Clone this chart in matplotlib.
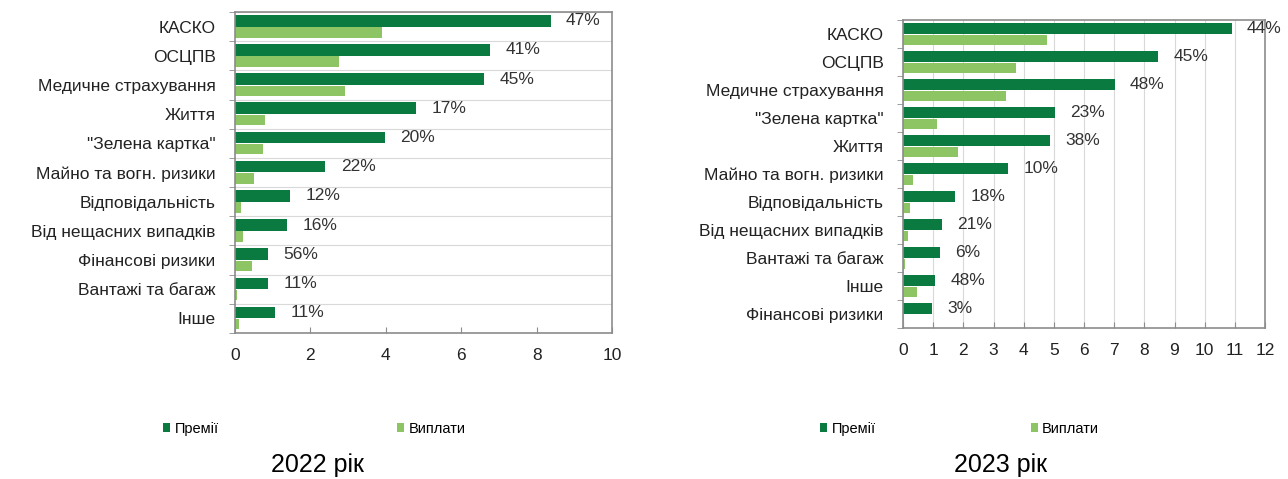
import matplotlib.pyplot as plt
import numpy as np

plt.rcParams['font.family'] = ['Liberation Sans', 'DejaVu Sans']

# 2022
cats_2022 = ['КАСКО', 'ОСЦПВ', 'Медичне страхування', 'Життя', '"Зелена картка"',
             'Майно та вогн. ризики', 'Відповідальність', 'Від нещасних випадків',
             'Фінансові ризики', 'Вантажі та багаж', 'Інше']
prem_2022 = [8.37, 6.77, 6.61, 4.8, 3.97, 2.4, 1.47, 1.39, 0.88, 0.88, 1.07]
pay_2022 = [3.9, 2.75, 2.93, 0.8, 0.75, 0.5, 0.15, 0.2, 0.45, 0.05, 0.1]
pct_2022 = ['47%', '41%', '45%', '17%', '20%', '22%', '12%', '16%', '56%', '11%', '11%']

# 2023
cats_2023 = ['КАСКО', 'ОСЦПВ', 'Медичне страхування', '"Зелена картка"', 'Життя',
             'Майно та вогн. ризики', 'Відповідальність', 'Від нещасних випадків',
             'Вантажі та багаж', 'Інше', 'Фінансові ризики']
prem_2023 = [10.9, 8.45, 7.02, 5.03, 4.87, 3.48, 1.72, 1.3, 1.22, 1.06, 0.96]
pay_2023 = [4.77, 3.74, 3.41, 1.13, 1.82, 0.33, 0.23, 0.17, 0.08, 0.46, 0.03]
pct_2023 = ['44%', '45%', '48%', '23%', '38%', '10%', '18%', '21%', '6%', '48%', '3%']

dark = '#0b7a40'
light = '#8dc464'
frame = '#8c8c8c'

fig = plt.figure(figsize=(12.88, 4.79), dpi=100)


def draw(ax, cats, prem, pay, pct, xmax, step, vgrid):
    y = np.arange(len(cats))
    ax.barh(y - 0.2, prem, height=0.4, color=dark, label='Премії')
    ax.barh(y + 0.2, pay, height=0.36, color=light, label='Виплати')
    for yi, v, t in zip(y, prem, pct):
        ax.annotate(t, (v, yi - 0.2), xytext=(11, 0), textcoords='offset points',
                    va='center', ha='left', fontsize=12.5, color='#333333')
    ax.set_xlim(0, xmax)
    ax.set_ylim(len(cats) - 0.5, -0.5)
    ax.set_yticks(y)
    ax.set_yticklabels(cats, fontsize=12.5, color='#222222')
    ax.set_yticks(np.arange(len(cats) + 1) - 0.5, minor=True)
    ax.tick_params(axis='y', which='major', length=0, pad=14)
    ax.tick_params(axis='y', which='minor', length=4, color=frame, direction='out')
    ax.set_xticks(np.arange(0, xmax + 0.1, step))
    ax.tick_params(axis='x', length=4, direction='in', color=frame, labelsize=12.5,
                   pad=11, labelcolor='#222222')
    for s in ax.spines.values():
        s.set_color(frame)
        s.set_linewidth(1.2)
    if vgrid:
        ax.grid(axis='x', color='#d9d9d9', linewidth=0.8)
    else:
        ax.grid(axis='y', which='minor', color='#d9d9d9', linewidth=0.8)
    ax.set_axisbelow(True)


ax1 = fig.add_axes([235 / 1288, 1 - 333 / 479, 377 / 1288, 321 / 479])
draw(ax1, cats_2022, prem_2022, pay_2022, pct_2022, 10, 2, False)
ax2 = fig.add_axes([903 / 1288, 1 - 328 / 479, 362 / 1288, 308 / 479])
draw(ax2, cats_2023, prem_2023, pay_2023, pct_2023, 12, 1, True)

h, l = ax1.get_legend_handles_labels()
fig.legend(h, l, loc='center left', bbox_to_anchor=(150 / 1288, 1 - 429 / 479),
           ncol=2, frameon=False, handlelength=0.5, handleheight=0.6,
           handletextpad=0.3, columnspacing=12.2, fontsize=10.5)
fig.legend(h, l, loc='center left', bbox_to_anchor=(807 / 1288, 1 - 429 / 479),
           ncol=2, frameon=False, handlelength=0.5, handleheight=0.6,
           handletextpad=0.3, columnspacing=10.6, fontsize=10.5)

fig.text(317 / 1288, 1 - 465 / 479, '2022 рік', ha='center', va='center', fontsize=18)
fig.text(1000 / 1288, 1 - 465 / 479, '2023 рік', ha='center', va='center', fontsize=18)

fig.savefig('out.png', dpi=100)
